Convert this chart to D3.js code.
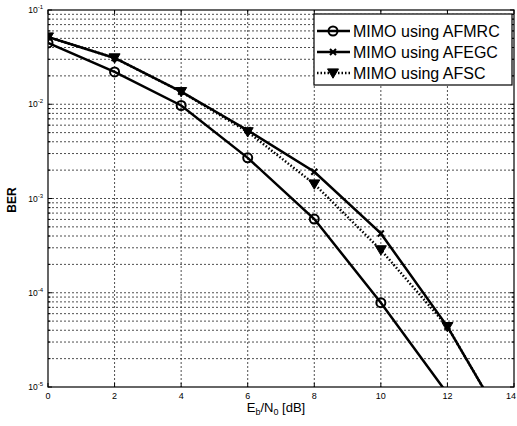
<!DOCTYPE html>
<html><head><meta charset="utf-8">
<script src="https://cdn.jsdelivr.net/npm/d3@7/dist/d3.min.js"></script>
<style>body{margin:0;background:#fff}svg{display:block}text{font-family:"Liberation Sans",Arial,sans-serif;fill:#000}</style>
</head><body><svg id="c" width="517" height="426"></svg>
<script>
const snr = [0, 2, 4, 6, 8, 10, 12, 14];
const afmrc = [0.0447, 0.022, 0.0097, 0.0027, 6.05e-4, 7.85e-5, 8.5e-6];
const afegc = [0.0517, 0.031, 0.0136, 0.0053, 0.00192, 4.26e-4, 4.37e-5, 2.7e-6];
const afsc  = [0.0517, 0.031, 0.0136, 0.0051, 0.001425, 2.85e-4, 4.37e-5, 2.7e-6];
const xTicks = [0, 2, 4, 6, 8, 10, 12, 14];
const yExps = [-5, -4, -3, -2, -1];
const names = ["MIMO using AFMRC", "MIMO using AFEGC", "MIMO using AFSC"];

const svg = d3.select("#c");
const L = 48, R = 514, T = 10, B = 387;
const x = d3.scaleLinear().domain([0, 14]).range([L, R]);
const y = d3.scaleLog().domain([1e-5, 1e-1]).range([B, T]);

// grid
const minorVals = [];
for (let e = -5; e < 0; e++) for (let m = 1; m < 10; m++) { const v = m * Math.pow(10, e); if (v > 1e-5 * 1.0001 && v < 1e-1 * 0.9999) minorVals.push(v); }
const grid = svg.append("g").attr("stroke", "#222").attr("stroke-width", 0.8).attr("stroke-dasharray", "2,2");
grid.selectAll(".h").data(minorVals).join("line").attr("x1", L).attr("x2", R).attr("y1", d => y(d)).attr("y2", d => y(d));
grid.selectAll(".v").data(xTicks.filter(d => d > 0 && d < 14)).join("line").attr("x1", d => x(d)).attr("x2", d => x(d)).attr("y1", T).attr("y2", B);

// frame
svg.append("rect").attr("x", L).attr("y", T).attr("width", R - L).attr("height", B - T).attr("fill", "none").attr("stroke", "#000").attr("stroke-width", 1.2);

// ticks
const tk = svg.append("g").attr("stroke", "#000").attr("stroke-width", 1);
xTicks.forEach(d => { tk.append("line").attr("x1", x(d)).attr("x2", x(d)).attr("y1", B).attr("y2", B - 4); tk.append("line").attr("x1", x(d)).attr("x2", x(d)).attr("y1", T).attr("y2", T + 4); });
minorVals.concat([1e-5, 1e-1]).forEach(v => { const major = Math.abs(Math.log10(v) - Math.round(Math.log10(v))) < 1e-6; const len = major ? 4 : 2.5; tk.append("line").attr("x1", L).attr("x2", L + len).attr("y1", y(v)).attr("y2", y(v)); tk.append("line").attr("x1", R).attr("x2", R - len).attr("y1", y(v)).attr("y2", y(v)); });

// tick labels
svg.append("g").selectAll("text").data(xTicks).join("text")
  .attr("x", d => d === 14 ? 516 : x(d)).attr("y", B + 12)
  .attr("text-anchor", d => d === 14 ? "end" : "middle").attr("font-size", 9).text(d => d);
const yl = svg.append("g").selectAll("text").data(yExps).join("text").attr("x", 43).attr("y", d => y(Math.pow(10, d)) + 3).attr("text-anchor", "end").attr("font-size", 8.5);
yl.append("tspan").text("10");
yl.append("tspan").attr("dy", -4).attr("font-size", 6).text(d => "-" + (-d));

// axis labels
const xl = svg.append("text").attr("x", 276).attr("y", 412).attr("font-size", 13).attr("text-anchor", "middle");
xl.append("tspan").text("E");
xl.append("tspan").attr("dy", 3).attr("font-size", 9).text("b");
xl.append("tspan").attr("dy", -3).text("/N");
xl.append("tspan").attr("dy", 3).attr("font-size", 9).text("0");
xl.append("tspan").attr("dy", -3).text(" [dB]");
svg.append("text").attr("transform", "translate(16,200) rotate(-90)").attr("text-anchor", "middle").attr("font-size", 12).attr("font-weight", "bold").text("BER");

// curves
svg.append("clipPath").attr("id", "clip").append("rect").attr("x", L).attr("y", T).attr("width", R - L).attr("height", B - T);
const plot = svg.append("g").attr("clip-path", "url(#clip)");
const line = d3.line().x(d => x(d[0])).y(d => y(d[1]));
const series = [
  { vals: afmrc, dash: null, marker: "o" },
  { vals: afegc, dash: null, marker: "x" },
  { vals: afsc, dash: "1.5,2", marker: "v" }
];
function drawMarker(g, type, cx, cy) {
  if (type === "o") g.append("circle").attr("cx", cx).attr("cy", cy).attr("r", 4.5).attr("fill", "none").attr("stroke", "#000").attr("stroke-width", 2);
  else if (type === "x") { const s = 3; g.append("path").attr("d", `M${cx - s},${cy - s}L${cx + s},${cy + s}M${cx - s},${cy + s}L${cx + s},${cy - s}`).attr("stroke", "#000").attr("stroke-width", 2); }
  else { const s = 5.5; g.append("path").attr("d", `M${cx - s},${cy - s * 0.75}L${cx + s},${cy - s * 0.75}L${cx},${cy + s * 0.95}Z`).attr("fill", "#000").attr("stroke", "#000").attr("stroke-width", 1); }
}
series.forEach(s => {
  const pts = s.vals.map((v, i) => [snr[i], v]);
  plot.append("path").attr("d", line(pts)).attr("fill", "none").attr("stroke", "#000").attr("stroke-width", 2.5).attr("stroke-dasharray", s.dash);
  pts.forEach(p => drawMarker(plot, s.marker, x(p[0]), y(p[1])));
});

// legend
const lg = svg.append("g");
lg.append("rect").attr("x", 314).attr("y", 14).attr("width", 198).attr("height", 71).attr("fill", "#fff").attr("stroke", "#000").attr("stroke-width", 1.2);
series.forEach((s, i) => {
  const cy = 31 + i * 21;
  lg.append("line").attr("x1", 317).attr("x2", 350).attr("y1", cy).attr("y2", cy).attr("stroke", "#000").attr("stroke-width", 2.5).attr("stroke-dasharray", s.dash);
  drawMarker(lg, s.marker, 333, cy);
  lg.append("text").attr("x", 353).attr("y", cy + 6).attr("font-size", 16).text(names[i]);
});
</script></body></html>
